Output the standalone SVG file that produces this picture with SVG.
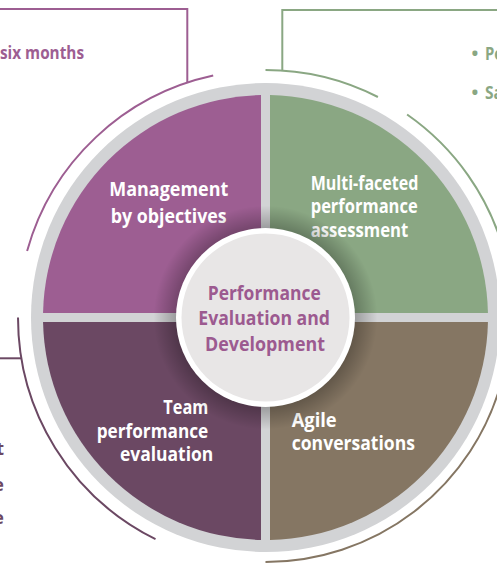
<svg xmlns="http://www.w3.org/2000/svg" width="497" height="563" viewBox="0 0 497 563">
  <defs>
    <style>
      .lbl { font-family: "Open Sans", "Liberation Sans", sans-serif; font-weight: bold; font-size: 20px; fill: #ffffff; }
      .ctr { font-family: "Open Sans", "Liberation Sans", sans-serif; font-weight: bold; font-size: 20px; fill: #9c5a90; }
      .side { font-family: "Open Sans", "Liberation Sans", sans-serif; font-weight: bold; font-size: 18px; }
      .arc { fill: none; stroke-width: 2; }
    </style>
    <radialGradient id="shade" cx="0.5" cy="0.5" r="0.5">
      <stop offset="0.78" stop-color="#000000" stop-opacity="0.28"/>
      <stop offset="1" stop-color="#000000" stop-opacity="0"/>
    </radialGradient>
  </defs>
  <rect width="497" height="563" fill="#ffffff"/>

  <g id="connectors">
    <path class="arc" stroke="#9d5e92" d="M 0,9 H 187.3 V 82.8"/>
    <path class="arc" stroke="#9d5e92" d="M 27.1,250.95 A 247.5 247.5 0 0 1 213.2,75.6"/>
    <path class="arc" stroke="#8aa783" d="M 497,10 H 282.3 V 70.6"/>
    <path class="arc" stroke="#8aa783" d="M 265.5,70 A 247.5 247.5 0 0 1 377.9,97"/>
    <path class="arc" stroke="#8aa783" d="M 407.1,114.5 A 247.5 247.5 0 0 1 504.6,253.4"/>
    <path class="arc" stroke="#6b4863" d="M 0,358.3 H 21.3"/>
    <path class="arc" stroke="#6b4863" d="M 18,317.5 A 247.5 247.5 0 0 0 155.5,539.2"/>
    <path class="arc" stroke="#857663" d="M 501.7,380.8 A 244.5 244.5 0 0 1 265.5,562"/>
  </g>

  <g id="side-texts">
    <text class="side" fill="#9d5e92" x="0" y="59" textLength="84" lengthAdjust="spacingAndGlyphs">six months</text>
    <text class="side" fill="#8aa783" x="471.5" y="60" font-size="20">•<tspan x="485" textLength="18" lengthAdjust="spacingAndGlyphs">Pe</tspan></text>
    <text class="side" fill="#8aa783" x="471.5" y="99" font-size="20">•<tspan x="485" textLength="18" lengthAdjust="spacingAndGlyphs">Sa</tspan></text>
    <text class="side" fill="#6b4863" x="4" y="455" font-size="20" text-anchor="end">t</text>
    <text class="side" fill="#6b4863" x="4" y="491" font-size="20" text-anchor="end">e</text>
    <text class="side" fill="#6b4863" x="4" y="524" font-size="20" text-anchor="end">e</text>
  </g>

  <g id="ring">
    <circle cx="265.5" cy="317.5" r="234.5" fill="#d2d3d5"/>
  </g>

  <g id="node-mbo">
    <path fill="#9d5e92" d="M 261,313 L 43.05,313 A 222.5 222.5 0 0 1 261,95.05 Z"/>
    <text class="lbl" x="109.3" y="195.5" textLength="119" lengthAdjust="spacingAndGlyphs">Management</text>
    <text class="lbl" x="110.7" y="223" textLength="116" lengthAdjust="spacingAndGlyphs">by objectives</text>
  </g>

  <g id="node-multi">
    <path fill="#8aa783" d="M 270,313 L 270,95.05 A 222.5 222.5 0 0 1 487.95,313 Z"/>
    <text class="lbl" x="310.7" y="190" textLength="107.6" lengthAdjust="spacingAndGlyphs">Multi-faceted</text>
    <text class="lbl" x="310.7" y="213.3" textLength="107" lengthAdjust="spacingAndGlyphs">performance</text>
    <text class="lbl" x="310.7" y="236.7" textLength="97.6" lengthAdjust="spacingAndGlyphs">assessment</text>
  </g>

  <g id="node-agile">
    <path fill="#857663" d="M 270,322 L 487.95,322 A 222.5 222.5 0 0 1 270,539.95 Z"/>
    <text class="lbl" x="291.7" y="427.3" textLength="45" lengthAdjust="spacingAndGlyphs">Agile</text>
    <text class="lbl" x="291.7" y="450" textLength="123.3" lengthAdjust="spacingAndGlyphs">conversations</text>
  </g>

  <g id="node-team">
    <path fill="#6b4863" d="M 261,322 L 261,539.95 A 222.5 222.5 0 0 1 43.05,322 Z"/>
    <text class="lbl" x="163.3" y="414.3" textLength="45" lengthAdjust="spacingAndGlyphs">Team</text>
    <text class="lbl" x="96.7" y="438.3" textLength="111.6" lengthAdjust="spacingAndGlyphs">performance</text>
    <text class="lbl" x="120" y="461" textLength="93.3" lengthAdjust="spacingAndGlyphs">evaluation</text>
  </g>

  <g id="node-center">
    <circle cx="265.5" cy="317.5" r="112" fill="url(#shade)"/>
    <circle cx="265.5" cy="317.5" r="89.5" fill="#ffffff"/>
    <circle cx="265.5" cy="317.5" r="84" fill="#e8e6e6"/>
    <text class="ctr" x="207.7" y="300" textLength="113" lengthAdjust="spacingAndGlyphs">Performance</text>
    <text class="ctr" x="198.3" y="325" textLength="131.7" lengthAdjust="spacingAndGlyphs">Evaluation and</text>
    <text class="ctr" x="205" y="350.5" textLength="120" lengthAdjust="spacingAndGlyphs">Development</text>
  </g>
</svg>
